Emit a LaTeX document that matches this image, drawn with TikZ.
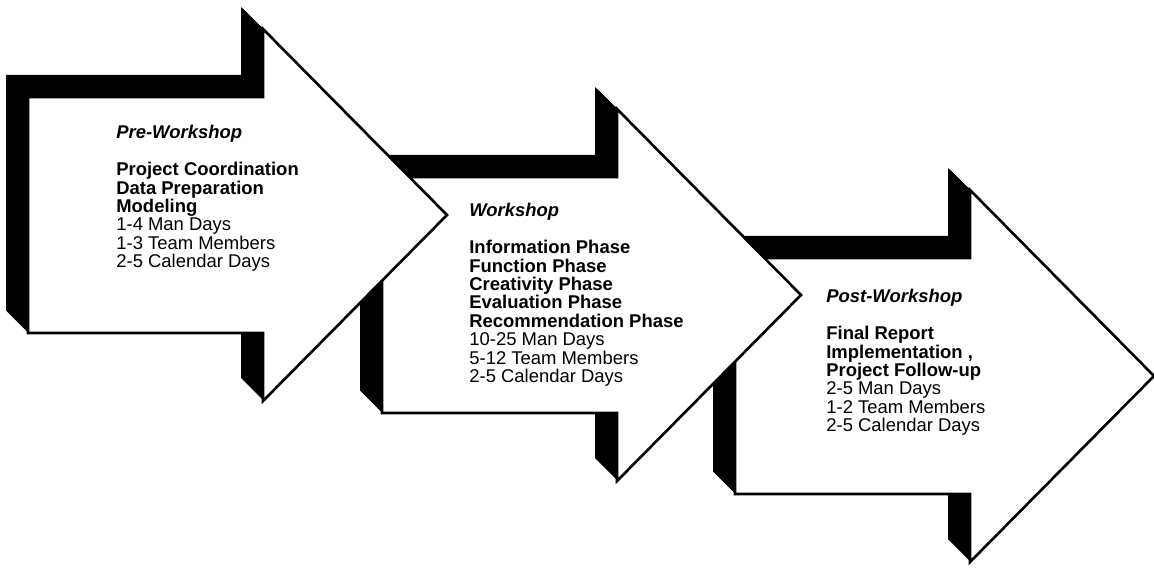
\documentclass[tikz,border=0pt]{standalone}
\usepackage{fontspec}
\setmainfont{Liberation Sans}

\tikzset{
  phasefront/.style={draw=black, fill=white, line width=1.5pt, line join=miter},
  phasetext/.style={anchor=north west, inner sep=0pt, align=left,
    font=\fontsize{10.5}{10.5}\selectfont},
  pics/phasearrow/.style={code={
    % black sides: the outline pushed back 22 units, step by step
    \foreach \d in {0,...,22}
      \fill[black] (-\d,-\d) ++(0,-118) -- ++(235,0) -- ++(0,-68) -- ++(184,186)
        -- ++(-184,186) -- ++(0,-68) -- ++(-235,0) -- cycle;
    \filldraw[phasefront] (0,0) ++(0,-118) -- ++(235,0) -- ++(0,-68) -- ++(184,186)
        -- ++(-184,186) -- ++(0,-68) -- ++(-235,0) -- cycle;
  }}
}

\begin{document}
\begin{tikzpicture}[x=0.02cm, y=-0.02cm]
  \useasboundingbox (0,0) rectangle (1154,571);

  % last arrow first, so each arrow lies over the next one
  \pic at (735,376) {phasearrow};
  \node[phasetext] (post) at (826,289) {\textbf{\textit{Post-Workshop}}\\[10.5pt]
    \textbf{Final Report}\\
    \textbf{Implementation ,}\\
    \textbf{Project Follow-up}\\
    2-5 Man Days\\
    1-2 Team Members\\
    2-5 Calendar Days};

  \pic at (382,295) {phasearrow};
  \node[phasetext] (work) at (469,203) {\textbf{\textit{Workshop}}\\[10.5pt]
    \textbf{Information Phase}\\
    \textbf{Function Phase}\\
    \textbf{Creativity Phase}\\
    \textbf{Evaluation Phase}\\
    \textbf{Recommendation Phase}\\
    10-25 Man Days\\
    5-12 Team Members\\
    2-5 Calendar Days};

  \pic at (28,215) {phasearrow};
  \node[phasetext] (pre) at (116,125) {\textbf{\textit{Pre-Workshop}}\\[10.5pt]
    \textbf{Project Coordination}\\
    \textbf{Data Preparation}\\
    \textbf{Modeling}\\
    1-4 Man Days\\
    1-3 Team Members\\
    2-5 Calendar Days};
\end{tikzpicture}
\end{document}
